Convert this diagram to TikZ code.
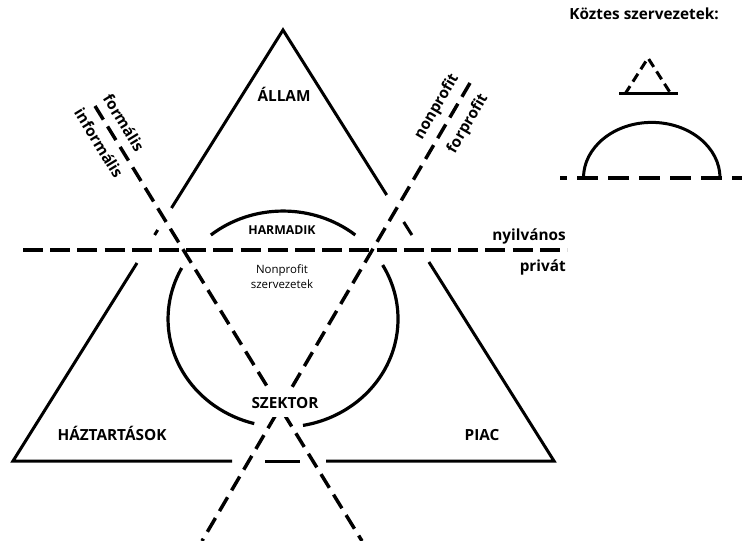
\documentclass[tikz,border=0pt]{standalone}
\usepackage{fontspec}
\setmainfont{Open Sans}
\begin{document}
\begin{tikzpicture}[x=0.75pt,y=-0.75pt,
  solidline/.style={draw=black,line width=2.25pt},
  hdash/.style={draw=black,line width=3pt,dash pattern=on 15pt off 5.4pt},
  ddash/.style={draw=black,line width=2.6pt,dash pattern=on 12pt off 6pt},
  biglabel/.style={font=\bfseries\fontsize{11.5}{13}\selectfont,inner sep=0pt},
  smalllabel/.style={font=\bfseries\fontsize{9.2}{11}\selectfont,inner sep=0pt},
  plainlabel/.style={font=\fontsize{8.6}{10}\selectfont,inner sep=0pt}]
\useasboundingbox (0,0) rectangle (742,541);

% the big triangle, interrupted where the dashed lines cross it
\coordinate (apex) at (283,30);
\coordinate (bl) at (13,461);
\coordinate (br) at (554,461);
\draw[solidline] (171.5,208) -- (apex) -- (386.7,195);
\draw[solidline] (157.7,230) -- (154.6,235);
\draw[solidline] (403.7,222) -- (411.9,235);
\draw[solidline] (137,263) -- (bl) -- (232,461);
\draw[solidline] (265,461) -- (300,461);
\draw[solidline] (326,461) -- (br) -- (428.9,262);

% the third-sector ellipse in three pieces
\draw[solidline,line width=2.4pt] (355.3,235) arc[start angle=51.1,end angle=128.9,x radius=86.25pt,y radius=81pt];
\draw[solidline,line width=2.4pt] (181.7,268) arc[start angle=151.8,end angle=255.5,x radius=86.25pt,y radius=81pt];
\draw[solidline,line width=2.4pt] (303,425.4) arc[start angle=280,end angle=390,x radius=86.25pt,y radius=81pt];

% dividing lines
\coordinate (hl) at (23,250);
\coordinate (hr) at (567,250);
\draw[hdash] (hl) -- (hr);
\coordinate (fa) at (95,106);
\coordinate (fb) at (362,541);
\draw[ddash] (fa) -- (fb);
\coordinate (na) at (470,83);
\coordinate (nb) at (202,541);
\draw[ddash] (na) -- (nb);

% sector labels
\node[biglabel] (allam) at (284,101.7) [anchor=base] {ÁLLAM};
\node[biglabel] (haz) at (112,440.7) [anchor=base] {HÁZTARTÁSOK};
\node[biglabel] (piac) at (482,440) [anchor=base] {PIAC};
\node[smalllabel] (harm) at (282,235) [anchor=base] {HARMADIK};
\node[biglabel,fill=white,inner xsep=2pt,inner ysep=7pt] (szek) at (285,408) [anchor=base] {SZEKTOR};
\node[plainlabel] (np1) at (282,273.3) [anchor=base] {Nonprofit};
\node[plainlabel] (np2) at (282,288.3) [anchor=base] {szervezetek};

% labels along the dividing lines
\node[biglabel,anchor=base east] (nyil) at (566,240.7) {nyilvános};
\node[biglabel,anchor=base east] (priv) at (566,271.7) {privát};
\node[biglabel,rotate=-58.5] (form) at (124,123) {formális};
\node[biglabel,rotate=-58.5] (inform) at (99,143) {informális};
\node[biglabel,rotate=59.7] (nonp) at (437,107) {nonprofit};
\node[biglabel,rotate=59.7] (forp) at (468,124) {forprofit};

% legend of intermediate organisations
\node[biglabel] (koztes) at (644,19.3) [anchor=base] {Köztes szervezetek:};
\coordinate (ta) at (648,58);
\coordinate (tl) at (625,94);
\coordinate (tr) at (671,94);
\draw[draw=black,line width=2.25pt,dash pattern=on 7pt off 4pt] (tl) -- (ta) -- (tr);
\draw[solidline] (619,94) -- (678,94);
\draw[solidline] (720,178) arc[start angle=0,end angle=180,x radius=51.2pt,y radius=41.7pt];
\coordinate (ll) at (560,178);
\coordinate (lr) at (742,178);
\draw[draw=black,line width=3pt,dash pattern=on 15.75pt off 7.5pt,dash phase=10.5pt] (ll) -- (lr);
\end{tikzpicture}
\end{document}
